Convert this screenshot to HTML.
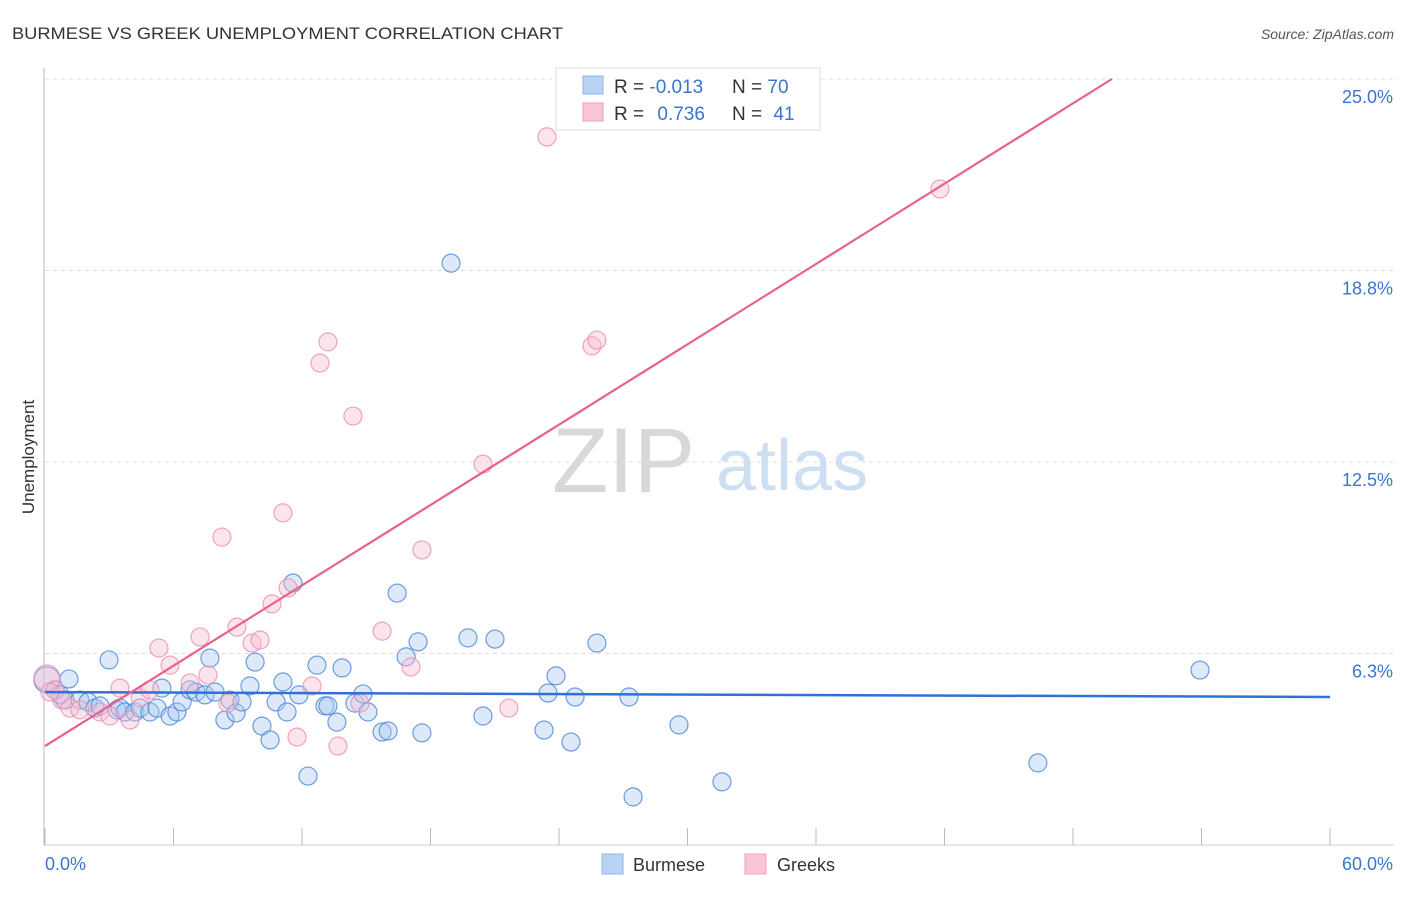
<!DOCTYPE html>
<html><head><meta charset="utf-8"><style>
body{margin:0;background:#fff;font-family:"Liberation Sans",sans-serif}
svg text{font-family:"Liberation Sans",sans-serif}
</style></head><body>
<svg id="c" width="1406" height="892">
<text x="12" y="39" font-size="17" fill="#333" textLength="551" lengthAdjust="spacingAndGlyphs">BURMESE VS GREEK UNEMPLOYMENT CORRELATION CHART</text>
<text x="1394" y="39" font-size="14" fill="#555" text-anchor="end" font-style="italic">Source: ZipAtlas.com</text>
<g>
<text x="552" y="492" font-size="92" fill="#d8d8d8" font-family="Liberation Serif">ZIP</text>
<text x="716" y="490" font-size="72" fill="#cfdff3">atlas</text>
</g>
<g id="grid"></g><g id="pts"></g><g id="lines"></g>
<text transform="translate(34,457) rotate(-90)" font-size="17" fill="#333" text-anchor="middle">Unemployment</text>
<g>
<rect x="556" y="68" width="264" height="62" fill="#fff" stroke="#ddd"/>
<rect x="583" y="76" width="20" height="18" fill="#b8d3f5" stroke="#8db4e8"/>
<rect x="583" y="103" width="20" height="18" fill="#f9c6d6" stroke="#f0a0b8"/>
<text x="614" y="93" font-size="19" fill="#333">R = <tspan fill="#3a75d0">-0.013</tspan></text>
<text x="732" y="93" font-size="19" fill="#333">N = <tspan fill="#3a75d0">70</tspan></text>
<text x="614" y="120" font-size="19" fill="#333">R = <tspan fill="#3a75d0" dx="8">0.736</tspan></text>
<text x="732" y="120" font-size="19" fill="#333">N = <tspan fill="#3a75d0" dx="6">41</tspan></text>
</g>
<g>
<rect x="602" y="854" width="21" height="20" fill="#b8d3f5" stroke="#8db4e8"/>
<text x="633" y="871" font-size="18" fill="#333">Burmese</text>
<rect x="745" y="854" width="21" height="20" fill="#f9c6d6" stroke="#f0a0b8"/>
<text x="777" y="871" font-size="18" fill="#333">Greeks</text>
</g>
</svg>
<script>
const xTickLabels=["0.0%","60.0%"];
const yTicks=[6.25,12.5,18.75,25];
const yTickLabels=["6.3%","12.5%","18.8%","25.0%"];
const burmeseX=[0.09,0.47,0.70,1.12,0.93,1.63,2.01,2.33,2.57,2.99,3.36,3.50,3.74,4.20,4.44,4.90,5.23,5.46,5.84,6.16,6.40,6.77,7.05,7.47,7.70,7.94,8.40,8.64,8.92,9.20,9.57,9.81,10.13,10.51,10.79,11.11,11.30,11.58,11.86,12.28,12.70,13.07,13.21,13.63,13.87,14.47,14.85,15.08,15.74,16.02,16.44,16.86,17.42,17.60,18.96,19.75,20.45,21.01,23.30,23.49,23.86,24.56,24.75,25.77,27.27,27.46,29.60,31.61,46.36,53.93];
const burmeseY=[5.39,5.06,4.90,5.42,4.73,4.73,4.67,4.47,4.54,6.04,4.41,4.47,4.34,4.34,4.47,4.34,4.47,5.12,4.21,4.34,4.67,5.06,4.99,4.90,6.10,4.99,4.08,4.73,4.31,4.67,5.19,5.97,3.88,3.43,4.67,5.32,4.34,8.55,4.90,2.25,5.87,4.54,4.54,4.01,5.78,4.63,4.93,4.34,3.69,3.72,8.22,6.14,6.63,3.66,18.99,6.76,4.21,6.72,3.75,4.96,5.52,3.36,4.83,6.59,4.83,1.57,3.92,2.06,2.68,5.71];
const greeksX=[0.09,0.47,0.79,1.17,1.63,2.57,3.03,3.50,3.97,4.44,4.90,5.32,5.84,6.77,7.24,7.61,8.26,8.54,8.96,9.67,10.04,10.60,11.11,11.35,11.77,12.47,12.84,13.21,13.68,14.38,14.71,15.74,17.09,17.60,20.45,21.66,23.44,25.54,25.77,41.79,0.23];
const greeksY=[5.45,5.06,4.73,4.47,4.41,4.34,4.21,5.12,4.08,4.80,5.06,6.43,5.87,5.29,6.79,5.55,10.05,4.63,7.11,6.59,6.69,7.87,10.84,8.39,3.52,5.19,15.73,16.42,3.23,14.00,4.63,6.98,5.81,9.63,12.43,4.47,23.11,16.29,16.48,21.41,4.99];
const burmeseTrend=[4.99,4.83];
const greeksTrend=[3.23,29.45];
const NS="http://www.w3.org/2000/svg";
const X=v=>45+v*(1285/60), Y=v=>845-v*30.64;
function mk(p,t,a){const e=document.createElementNS(NS,t);for(const k in a)e.setAttribute(k,a[k]);p.appendChild(e);return e;}
const g=document.getElementById('grid');
const ax=mk(g,'line',{x1:44,y1:68,x2:44,y2:845,stroke:'#bbb'});


const bx=mk(g,'line',{x1:44,y1:845,x2:1394,y2:845,stroke:'#ccc'});


yTicks.forEach((t,i)=>{
 const l=mk(g,'line',{x1:45,x2:1394,y1:Y(t),y2:Y(t),stroke:'#ddd','stroke-dasharray':'4,4'});
 
 
 const tx=mk(g,'text',{x:1393,y:Y(t)+24,'font-size':18,fill:'#3a75d0','text-anchor':'end'});tx.textContent=yTickLabels[i];
 
 
});
for(let i=0;i<=10;i++){
 const l=mk(g,'line',{x1:X(i*6),x2:X(i*6),y1:828,y2:845,stroke:'#bbb'});
 
 
}
xTickLabels.forEach((s,i)=>{
 const tx=mk(g,'text',{x:i?1393:45,y:870,'font-size':18,fill:'#3a75d0','text-anchor':i?'end':'start'});tx.textContent=s;
 
 
});
const P=document.getElementById('pts');
function pts(xs,ys,fill,stroke,name){
 xs.forEach((x,i)=>{
  const c=mk(P,'circle',{cx:X(x),cy:Y(ys[i]),r:i===0?13:9,fill:fill,'fill-opacity':0.4,stroke:stroke,'stroke-width':1.2,'stroke-opacity':0.8});
  
  
 });
}
pts(burmeseX,burmeseY,'#a9c8f0','#4a86d8','burmese-point');
pts(greeksX,greeksY,'#f7bcd0','#ec8fae','greeks-point');
const L=document.getElementById('lines');
const b=mk(L,'line',{x1:X(0),y1:Y(burmeseTrend[0]),x2:X(60),y2:Y(burmeseTrend[1]),stroke:'#2f72d6','stroke-width':2.5});


const s=(greeksTrend[1]-greeksTrend[0])/60, xe=(25-greeksTrend[0])/s;
const p=mk(L,'line',{x1:X(0),y1:Y(greeksTrend[0]),x2:X(xe),y2:Y(25),stroke:'#e8608c','stroke-width':2.2});


</script>
</body></html>
